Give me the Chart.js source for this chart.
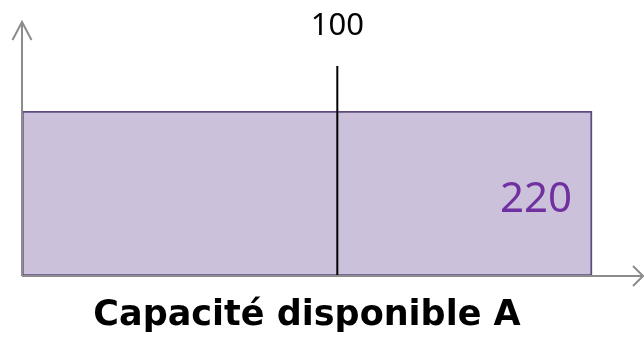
<!DOCTYPE html>
<html>
<head>
<meta charset="utf-8">
<script src="https://cdn.jsdelivr.net/npm/chart.js@4/dist/chart.umd.min.js"></script>
<style>
  body { margin: 0; background: #fff; }
  #wrap { width: 644px; height: 339px; }
</style>
</head>
<body>
<div id="wrap"><canvas id="graficoCapacite" width="644" height="339"></canvas></div>
<script>
// Données
const categories = ['Capacité disponible A'];
const capaciteValeurs = [220];
const referenceValeurs = [100];
const referenceLabels = ['100'];

const gris = '#8c8c8c';

// Flèches des axes, trait de référence et étiquettes
const decorPlugin = {
    id: 'decor',
    afterDatasetsDraw(chart) {
        const ctx = chart.ctx;
        const area = chart.chartArea;
        const xRef = chart.scales.xRef;
        ctx.save();

        // trait de référence (échelle schématique)
        referenceValeurs.forEach((v, i) => {
            const px = xRef.getPixelForValue(v);
            ctx.strokeStyle = '#000';
            ctx.lineWidth = 2;
            ctx.beginPath();
            ctx.moveTo(px, area.bottom);
            ctx.lineTo(px, area.top - 45);
            ctx.stroke();
            ctx.fillStyle = '#000';
            ctx.font = '31px "Noto Sans"';
            ctx.textAlign = 'center';
            ctx.textBaseline = 'alphabetic';
            ctx.fillText(referenceLabels[i], px, 35);
        });

        // valeur de la barre
        const meta = chart.getDatasetMeta(0);
        meta.data.forEach((bar, i) => {
            ctx.fillStyle = '#7030a0';
            ctx.font = '42px "Noto Sans"';
            ctx.textAlign = 'right';
            ctx.textBaseline = 'alphabetic';
            ctx.fillText(String(capaciteValeurs[i]), bar.x - 20, 212);
        });

        // nom de la catégorie sous l'axe
        ctx.fillStyle = '#000';
        ctx.font = 'bold 35px "DejaVu Sans"';
        ctx.textAlign = 'center';
        ctx.textBaseline = 'alphabetic';
        ctx.fillText(categories[0], 307, 325);

        // axes avec flèches
        ctx.strokeStyle = gris;
        ctx.lineWidth = 2;
        ctx.beginPath();
        ctx.moveTo(area.left, area.bottom);
        ctx.lineTo(area.left, 22);
        ctx.moveTo(area.left - 9.5, 40);
        ctx.lineTo(area.left, 22);
        ctx.lineTo(area.left + 9.5, 40);
        ctx.moveTo(area.left, area.bottom);
        ctx.lineTo(chart.width - 1, area.bottom);
        ctx.moveTo(chart.width - 11, area.bottom - 10);
        ctx.lineTo(chart.width - 1, area.bottom);
        ctx.lineTo(chart.width - 11, area.bottom + 10);
        ctx.stroke();
        ctx.restore();
    }
};

function criarGrafico() {
    const ctx = document.getElementById('graficoCapacite').getContext('2d');
    new Chart(ctx, {
        type: 'bar',
        data: {
            labels: categories,
            datasets: [{
                data: capaciteValeurs,
                backgroundColor: '#cbc1db',
                borderColor: '#5f4a80',
                borderWidth: 2,
                borderSkipped: false,
                barPercentage: 1,
                categoryPercentage: 1
            }]
        },
        options: {
            indexAxis: 'y',
            responsive: false,
            animation: false,
            layout: { padding: { left: 22, right: 4, top: 111, bottom: 63 } },
            scales: {
                x: { min: 0, max: 238.5, display: false },
                xRef: { axis: 'x', type: 'linear', min: 0, max: 196, display: false },
                y: { display: false }
            },
            plugins: {
                legend: { display: false },
                tooltip: { enabled: false },
                title: { display: false }
            }
        },
        plugins: [decorPlugin]
    });
}

document.addEventListener('DOMContentLoaded', () => {
    criarGrafico();
});
</script>
</body>
</html>
